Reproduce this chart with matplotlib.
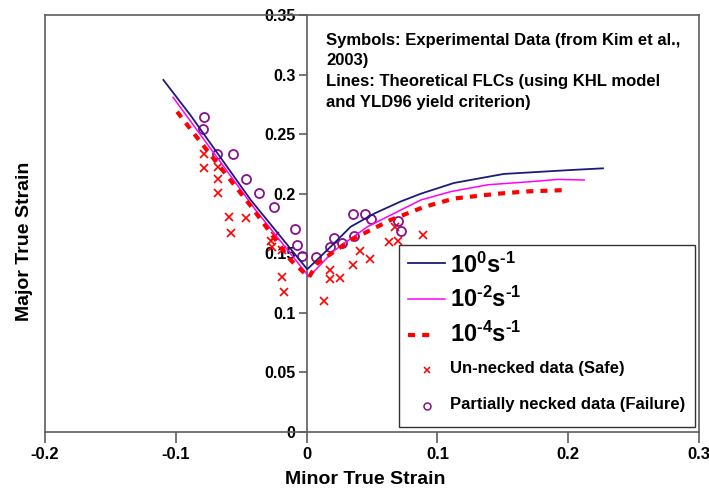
import matplotlib
matplotlib.use("Agg")
import matplotlib.pyplot as plt
from matplotlib.patches import Rectangle

plt.rcParams["font.family"] = ["Liberation Sans", "DejaVu Sans"]
plt.rcParams["font.weight"] = "bold"
plt.rcParams["mathtext.fontset"] = "custom"
plt.rcParams["mathtext.rm"] = "Liberation Sans:bold"
plt.rcParams["mathtext.bf"] = "Liberation Sans:bold"
plt.rcParams["mathtext.it"] = "Liberation Sans:bold"

# Theoretical FLCs (KHL model + YLD96) at three strain rates
flc_1e0_minor = [-0.1095, -0.0888, -0.0429, 0.0005, 0.0184, 0.0337, 0.0520,
                 0.0720, 0.0873, 0.1126, 0.1508, 0.2021, 0.2266]
flc_1e0_major = [0.2955, 0.2659, 0.1950, 0.1366, 0.1555, 0.1723, 0.1835,
                 0.1935, 0.2000, 0.2090, 0.2166, 0.2199, 0.2213]

flc_1e2_minor = [-0.1021, -0.0390, 0.0018, 0.0207, 0.0465, 0.0720, 0.0873, 0.1100,
                 0.1384, 0.1700, 0.1920, 0.2123]
flc_1e2_major = [0.2809, 0.1863, 0.1304, 0.1519, 0.1723, 0.1863, 0.1947, 0.2017,
                 0.2075, 0.2100, 0.2120, 0.2115]

flc_1e4_minor = [-0.0990, -0.0863, -0.0429, -0.0123, 0.0018, 0.0082, 0.0337, 0.0643,
                 0.0900, 0.1130, 0.1460, 0.1700, 0.1996]
flc_1e4_major = [0.2688, 0.2507, 0.1900, 0.1444, 0.1298, 0.1416, 0.1611, 0.1780,
                 0.1890, 0.1960, 0.2000, 0.2020, 0.2031]

# Experimental data (Kim et al., 2003)
safe_minor = [-0.0786, -0.0786, -0.0678, -0.0678, -0.0678, -0.0593, -0.0463, -0.0578,
              -0.0272, -0.0245, -0.0264, -0.0188, -0.0191, -0.0172, 0.0132, 0.0180,
              0.0176, 0.0253, 0.0355, 0.0406, 0.0485, 0.0630, 0.0697, 0.0676, 0.0891]
safe_major = [0.2332, 0.2218, 0.2227, 0.2122, 0.2006, 0.1802, 0.1792, 0.1670,
              0.1607, 0.1649, 0.1553, 0.1528, 0.1303, 0.1173, 0.1097, 0.1356,
              0.1284, 0.1290, 0.1402, 0.1517, 0.1450, 0.1592, 0.1603, 0.1721, 0.1653]

fail_minor = [-0.0781, -0.0789, -0.0684, -0.0559, -0.0467, -0.0361, -0.0250, -0.0087,
              -0.0077, -0.0033, 0.0069, 0.0180, 0.0209, 0.0270, 0.0362, 0.0355,
              0.0444, 0.0490, 0.0699, 0.0720]
fail_major = [0.2641, 0.2541, 0.2331, 0.2331, 0.2121, 0.2009, 0.1886, 0.1705,
              0.1570, 0.1480, 0.1467, 0.1553, 0.1626, 0.1584, 0.1645, 0.1827,
              0.1827, 0.1788, 0.1768, 0.1687]

x_ticks = [-0.2, -0.1, 0.0, 0.1, 0.2, 0.3]
x_tick_labels = ["-0.2", "-0.1", "0", "0.1", "0.2", "0.3"]
y_ticks = [0.0, 0.05, 0.1, 0.15, 0.2, 0.25, 0.3, 0.35]
y_tick_labels = ["0", "0.05", "0.1", "0.15", "0.2", "0.25", "0.3", "0.35"]

NAVY = "#1c1c78"
MAGENTA = "#ff00ff"
RED = "#ff0000"
PURPLE = "#85138a"
FRAME = "#5e5e5e"
DASH = (0, (1.7, 1.7))

fig = plt.figure(figsize=(7.09, 4.93), dpi=100)
ax = fig.add_axes([45 / 709, 61 / 493, 654 / 709, 417 / 493])

ax.plot(safe_minor, safe_major, linestyle="none", marker="x", color=RED,
        markersize=6, markeredgewidth=1.2, zorder=3)
ax.plot(fail_minor, fail_major, linestyle="none", marker="o", markerfacecolor="none",
        markeredgecolor=PURPLE, markersize=6.5, markeredgewidth=1.3, zorder=3)

ax.plot(flc_1e0_minor, flc_1e0_major, color=NAVY, lw=1.3, zorder=4)
ax.plot(flc_1e2_minor, flc_1e2_major, color=MAGENTA, lw=1.1, zorder=4)
ax.plot(flc_1e4_minor, flc_1e4_major, color=RED, lw=3.0, linestyle=DASH, zorder=4)

ax.set_xlim(-0.2, 0.3)
ax.set_ylim(0, 0.35)

for side in ["top", "right", "bottom", "left"]:
    ax.spines[side].set_color(FRAME)
    ax.spines[side].set_linewidth(1.2)
ax.spines["left"].set_position(("data", 0))
ax.axvline(-0.2, color=FRAME, lw=1.2, clip_on=False, zorder=5)

ax.set_xticks(x_ticks)
ax.set_xticklabels(x_tick_labels)
ax.set_yticks(y_ticks)
ax.set_yticklabels(y_tick_labels)
ax.tick_params(axis="x", direction="out", length=8, width=1.2, color=FRAME,
               labelsize=12, pad=3)
ax.tick_params(axis="y", direction="out", length=6, width=1.2, color=FRAME,
               labelsize=11.5, pad=2)
for lab in ax.get_xticklabels() + ax.get_yticklabels():
    lab.set_fontweight("bold")

ax.set_xlabel("Minor True Strain", fontsize=14, fontweight="bold")
ax.xaxis.set_label_coords(0.49, -0.094)
ax.set_ylabel("Major True Strain", fontsize=14, fontweight="bold")
ax.yaxis.set_label_coords(-0.018, 0.457)

ax.text(0.4297, 0.958,
        "Symbols: Experimental Data (from Kim et al.,\n2003)\n"
        "Lines: Theoretical FLCs (using KHL model\nand YLD96 yield criterion)",
        transform=ax.transAxes, fontsize=12, fontweight="bold",
        ha="left", va="top", linespacing=1.48)

# Legend box, built entry by entry so each row keeps its own font size
T = ax.transAxes
ax.add_patch(Rectangle((0.5413, 0.012), 0.4526, 0.4364, transform=T,
                       facecolor="white", edgecolor="#333333", lw=1.0,
                       zorder=6, clip_on=False))
hx0, hx1, hmid, tx = 0.555, 0.6116, 0.584, 0.6193
ax.plot([hx0, hx1], [0.406, 0.406], color=NAVY, lw=1.3, transform=T,
        clip_on=False, zorder=7)
ax.plot([hx0, hx1], [0.3182, 0.3182], color=MAGENTA, lw=1.1, transform=T,
        clip_on=False, zorder=7)
ax.plot([hx0, 0.595], [0.2326, 0.2326], color=RED, lw=3.0, linestyle=DASH,
        transform=T, clip_on=False, zorder=7)
ax.plot([hmid], [0.1487], linestyle="none", marker="x", color=RED, markersize=5,
        markeredgewidth=1.1, transform=T, clip_on=False, zorder=7)
ax.plot([hmid], [0.0631], linestyle="none", marker="o", markerfacecolor="none",
        markeredgecolor=PURPLE, markersize=5, markeredgewidth=1.1, transform=T,
        clip_on=False, zorder=7)

legend_labels = [r"$\mathbf{10^{0}s^{\text{-}1}}$", r"$\mathbf{10^{\text{-}2}s^{\text{-}1}}$",
                 r"$\mathbf{10^{\text{-}4}s^{\text{-}1}}$",
                 "Un-necked data (Safe)", "Partially necked data (Failure)"]
legend_sizes = [17, 17, 17, 12, 12]
legend_baselines = [0.3806, 0.3006, 0.2166, 0.1408, 0.0544]
for lab, fs, yb in zip(legend_labels, legend_sizes, legend_baselines):
    ax.text(tx, yb, lab, transform=T, fontsize=fs, fontweight="bold",
            ha="left", va="baseline", zorder=7)

fig.savefig("out.png", dpi=100)
